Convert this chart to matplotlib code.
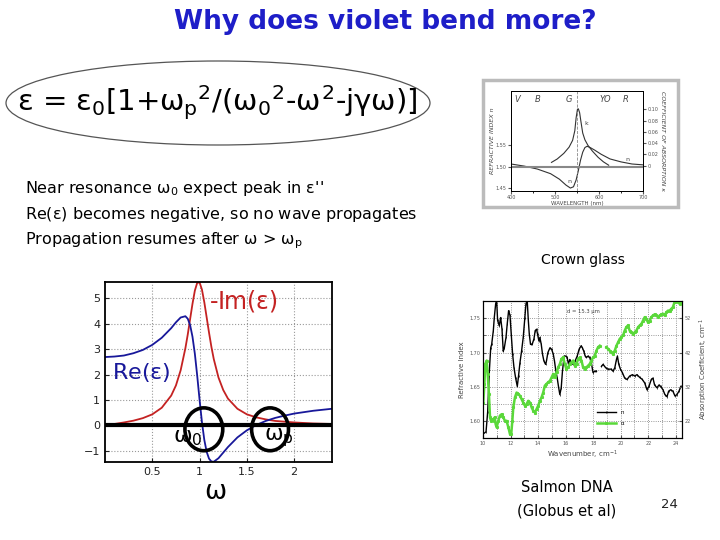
import numpy as np
import matplotlib
matplotlib.use("Agg")
import matplotlib.pyplot as plt
from matplotlib.patches import Ellipse, Rectangle

plt.rcParams['font.family'] = ['DejaVu Sans']
plt.rcParams['mathtext.fontset'] = 'custom'
plt.rcParams['mathtext.rm'] = 'DejaVu Sans'
plt.rcParams['mathtext.it'] = 'DejaVu Sans'
plt.rcParams['mathtext.bf'] = 'DejaVu Sans:bold'

# ---- main plot: Lorentz oscillator eps(w) ----
w = [0, 0.1, 0.2, 0.3, 0.4, 0.5, 0.6, 0.7, 0.75, 0.8, 0.85, 0.875, 0.9, 0.925, 0.95,
     0.975, 1.0, 1.025, 1.05, 1.075, 1.1, 1.125, 1.15, 1.2, 1.25, 1.3, 1.4, 1.5, 1.6,
     1.7, 1.8, 1.9, 2.0, 2.2, 2.4]
re_eps = [2.69, 2.71, 2.75, 2.84, 2.97, 3.17, 3.45, 3.83, 4.06, 4.25, 4.30, 4.20, 3.95,
          3.49, 2.82, 1.95, 1.00, 0.12, -0.58, -1.05, -1.32, -1.43, -1.44, -1.30, -1.08,
          -0.86, -0.48, -0.20, 0.01, 0.17, 0.29, 0.38, 0.46, 0.57, 0.65]
im_eps = [0.00, 0.05, 0.11, 0.18, 0.28, 0.43, 0.69, 1.17, 1.57, 2.17, 3.04, 3.58, 4.19,
          4.79, 5.31, 5.62, 5.63, 5.35, 4.85, 4.25, 3.65, 3.09, 2.61, 1.88, 1.39, 1.05,
          0.65, 0.43, 0.31, 0.23, 0.17, 0.14, 0.11, 0.07, 0.05]

# ---- crown glass (small figure, top right) ----
k_wl = [492, 505, 520, 532, 540, 545, 548, 551, 553, 556, 559, 563, 568, 575, 585, 598, 610, 622]
k_val = [0.006, 0.012, 0.022, 0.033, 0.045, 0.062, 0.085, 0.100, 0.101, 0.094, 0.078,
         0.058, 0.046, 0.036, 0.026, 0.015, 0.007, 0.001]
n_wl = [400, 430, 460, 490, 510, 525, 535, 542, 548, 553, 558, 563, 568, 573, 580, 590,
        605, 625, 650, 675, 700]
n_glass = [1.506, 1.501, 1.494, 1.483, 1.470, 1.456, 1.449, 1.452, 1.468, 1.490, 1.515,
           1.534, 1.545, 1.548, 1.545, 1.539, 1.529, 1.518, 1.511, 1.506, 1.504]
colour_letters = ['V', 'B', 'G', 'YO', 'R']
colour_pos = [407, 455, 525, 600, 655]

# ---- salmon DNA (small figure, bottom right) ----
nan = np.nan
dna_nx = [10.02, 10.22, 10.34, 10.46, 10.56, 10.63, 10.75, 10.82, 10.92, 10.99, 11.06, 11.18,
          11.28, 11.38, 11.47, 11.55, 11.67, 11.76, 11.86, 11.96, 12.05, 12.15, 12.25, 12.37,
          12.49, 12.58, 12.68, 12.80, 12.92, 13.04, 13.12, 13.21, 13.29, 13.36, 13.45, 13.57,
          13.70, 13.79, 13.89, 13.96, 14.06, 14.13, 14.23, 14.32, 14.42, 14.54, 14.61, 14.71,
          14.86, 14.98, 15.10, 15.19, 15.29, 15.39, 15.48, 15.58, 15.68, 15.77, 15.89, 16.01,
          16.11, 16.21, 16.30, 16.43, 16.55, 16.69, 16.84, 16.98, 17.13, 17.22, 17.32, 17.42,
          17.51, 17.63, 17.75, 17.87, 17.99, 18.12, 18.24, nan, 18.60, 18.72, 18.91, 19.08,
          19.32, 19.44, 19.57, 19.69, 19.76, 19.86, 19.98, 20.12, 20.29, 20.46, 20.65, 20.85,
          21.01, 21.18, 21.38, 21.57, 21.74, 21.91, 22.05, 22.22, 22.34, 22.46, 22.63, 22.78,
          22.90, 23.07, 23.21, 23.36, 23.48, 23.62, 23.79, 23.94, 24.08, 24.23, 24.37]
dna_n = [1.582, 1.585, 1.614, 1.673, 1.707, 1.712, 1.732, 1.751, 1.771, 1.776, 1.747, 1.739,
         1.751, 1.734, 1.702, 1.707, 1.722, 1.742, 1.761, 1.754, 1.727, 1.698, 1.678, 1.663,
         1.651, 1.666, 1.685, 1.702, 1.722, 1.751, 1.771, 1.776, 1.747, 1.727, 1.712, 1.712,
         1.720, 1.732, 1.734, 1.727, 1.717, 1.722, 1.712, 1.698, 1.688, 1.683, 1.688, 1.700,
         1.707, 1.705, 1.698, 1.688, 1.673, 1.663, 1.651, 1.639, 1.649, 1.673, 1.695, 1.695,
         1.693, 1.683, 1.690, 1.685, 1.683, 1.688, 1.695, 1.705, 1.710, 1.707, 1.702, 1.695,
         1.693, 1.695, 1.693, 1.685, 1.671, 1.673, 1.673, nan, 1.680, 1.683, 1.678, 1.676,
         1.676, 1.673, 1.678, 1.690, 1.695, 1.683, 1.676, 1.671, 1.663, 1.661, 1.666, 1.668,
         1.666, 1.668, 1.664, 1.661, 1.656, 1.646, 1.651, 1.661, 1.663, 1.653, 1.649, 1.653,
         1.651, 1.646, 1.639, 1.636, 1.644, 1.646, 1.644, 1.637, 1.639, 1.644, 1.651]
dna_ax = [10.02, 10.10, 10.17, 10.27, 10.34, 10.43, 10.51, 10.58, 10.68, 10.77, 10.85, 10.92,
          10.99, 11.11, 11.23, 11.35, 11.47, 11.59, 11.71, 11.84, 11.96, 12.05, 12.13, 12.20,
          12.32, 12.44, 12.56, 12.68, 12.80, 12.92, 13.04, 13.16, 13.29, 13.41, 13.53, 13.65,
          13.77, 13.89, 14.01, 14.13, 14.25, 14.37, 14.49, 14.61, 14.73, 14.86, 14.98, 15.10,
          15.22, 15.34, 15.46, 15.58, 15.70, 15.82, 15.94, 16.06, 16.18, 16.30, 16.43, 16.55,
          16.67, 16.79, 16.91, 17.03, 17.15, 17.27, 17.39, 17.51, 17.63, 17.75, 17.87, 17.99,
          18.12, 18.24, 18.36, 18.48, nan, 18.96, 19.08, 19.20, 19.32, 19.44, 19.57, 19.69,
          19.81, 19.93, 20.05, 20.17, 20.29, 20.41, 20.53, 20.65, 20.77, 20.89, 21.01, 21.14,
          21.26, 21.38, 21.50, 21.62, 21.74, 21.86, 21.98, 22.10, 22.22, 22.34, 22.46, 22.58,
          22.71, 22.83, 22.95, 23.07, 23.19, 23.31, 23.43, 23.55, 23.67, 23.79, 23.91, 24.03,
          24.15, 24.27, 24.40]
dna_alpha = [27.5, 32.9, 38.7, 39.7, 35.8, 30.0, 23.2, 22.2, 22.7, 22.2, 23.2, 21.2, 20.3,
             22.2, 23.7, 24.1, 23.2, 22.2, 22.2, 20.3, 18.3, 18.3, 22.2, 26.1, 29.0, 30.4,
             30.0, 29.5, 28.5, 27.5, 26.6, 27.0, 28.0, 27.5, 26.1, 25.1, 24.6, 25.6, 26.6,
             28.0, 29.0, 30.4, 32.4, 32.9, 33.4, 33.8, 34.8, 35.8, 34.8, 36.3, 37.7, 38.7,
             40.2, 40.6, 38.7, 37.2, 37.7, 38.7, 39.2, 39.7, 38.2, 38.7, 40.2, 40.6, 39.7,
             37.7, 37.2, 37.7, 38.2, 38.7, 39.7, 40.6, 41.1, 42.6, 43.6, 44.0, nan, 43.6,
             43.1, 42.6, 42.1, 41.6, 42.6, 44.0, 45.0, 46.0, 46.5, 47.0, 48.4, 49.4, 49.9,
             48.4, 47.9, 47.4, 47.9, 48.4, 49.4, 49.9, 50.3, 51.3, 52.3, 51.8, 50.8, 51.3,
             52.3, 52.8, 53.1, 52.8, 52.3, 52.8, 53.1, 53.3, 52.8, 53.7, 54.2, 54.2, 54.7,
             55.2, 56.7, 57.1, 56.7, 56.2, 56.4]

blue_title = '#1e1ec8'
red_c = '#c42222'
blue_c = '#18189a'
green_c = '#5ad83a'

fig = plt.figure(figsize=(7.2, 5.4), dpi=100)
W, H = 720.0, 540.0

# title and text block
fig.text(385 / W, 1 - 22 / H, 'Why does violet bend more?', color=blue_title,
         fontsize=19, fontweight='bold', ha='center', va='center')

fig.text(217 / W, 1 - 103 / H,
         r'$\epsilon$ = $\epsilon_0$[1+$\omega_p$$^2$/($\omega_0$$^2$-$\omega^2$-j$\gamma\omega$)]',
         fontsize=21, ha='center', va='center')
fig.patches.append(Ellipse((218 / W, 1 - 103 / H), 424 / W, 84 / H, transform=fig.transFigure,
                           fill=False, ec='#555555', lw=0.9))

lines = [r"Near resonance $\omega_0$ expect peak in $\epsilon$''",
         r"Re($\epsilon$) becomes negative, so no wave propagates",
         r"Propagation resumes after $\omega$ > $\omega_p$"]
for i, s in enumerate(lines):
    fig.text(25 / W, 1 - (188 + 26.5 * i) / H, s, fontsize=11.5, ha='left', va='center')

# main eps plot
ax = fig.add_axes([105 / W, 1 - 462 / H, 227 / W, 180 / H])
ax.plot(w, im_eps, color=red_c, lw=1.3)
ax.plot(w, re_eps, color=blue_c, lw=1.3)
ax.axhline(0, color='black', lw=3, zorder=5)
ax.set_xlim(0, 2.4)
ax.set_ylim(-1.45, 5.65)
ax.set_xticks([0.5, 1, 1.5, 2])
ax.set_xticklabels(['0.5', '1', '1.5', '2'])
ax.set_yticks([-1, 0, 1, 2, 3, 4, 5])
ax.set_yticklabels(['\u22121', '0', '1', '2', '3', '4', '5'])
ax.grid(True, ls=':', color='#999999', lw=0.8)
ax.tick_params(direction='in', labelsize=8, colors='#222222', length=3)
for sp in ax.spines.values():
    sp.set_linewidth(1.3)
ax.text(1.1, 4.9, r'-Im($\epsilon$)', color=red_c, fontsize=17, ha='left', va='center')
ax.text(0.07, 2.1, r'Re($\epsilon$)', color=blue_c, fontsize=16, ha='left', va='center')
ax.add_patch(Ellipse((1.045, -0.16), 0.40, 1.69, fill=False, ec='black', lw=2.6, zorder=6,
                     clip_on=False))
ax.add_patch(Ellipse((1.745, -0.16), 0.39, 1.69, fill=False, ec='black', lw=2.6, zorder=6,
                     clip_on=False))
ax.text(0.72, -0.5, r'$\omega_0$', fontsize=16, ha='left', va='center', zorder=7)
ax.text(1.68, -0.5, r'$\omega_p$', fontsize=16, ha='left', va='center', zorder=7)
fig.text(215 / W, 1 - 492 / H, '\u03c9', fontsize=19, ha='center', va='center')

# crown glass picture
fig.patches.append(Rectangle((483 / W, 1 - 207 / H), 195 / W, 127 / H, transform=fig.transFigure,
                             fill=False, ec='#bbbbbb', lw=2.5))
axc = fig.add_axes([511 / W, 1 - 191 / H, 132 / W, 100 / H])
axc.plot(n_wl, n_glass, color='#333333', lw=0.8)
axc.axhline(1.50, color='#888888', lw=1.5)
axc.axvline(550, color='#888888', lw=0.6, ls='--')
axc.set_xlim(400, 700)
axc.set_ylim(1.442, 1.679)
axc.set_xticks([400, 500, 600, 700])
axc.set_xticks([450, 550, 650], minor=True)
axc.set_yticks([1.45, 1.50, 1.55])
axc.tick_params(labelsize=3.5, colors='#555555', length=2, direction='out', pad=1)
axc.tick_params(which='minor', length=1.5)
axc.set_ylabel('REFRACTIVE INDEX n', fontsize=4.5, style='italic', color='#444444', labelpad=1)
axc.set_xlabel('WAVELENGTH (nm)', fontsize=4, color='#444444', labelpad=0.5)
for lab, p in zip(colour_letters, colour_pos):
    axc.text(p, 1.66, lab, fontsize=6, style='italic', color='#444444', ha='left', va='center')
axc.text(528, 1.462, 'n', fontsize=4.5, color='#444444')
axc2 = axc.twinx()
axc2.plot(k_wl, k_val, color='#333333', lw=0.8)
axc2.set_ylim(-0.0447, 0.1325)
axc2.set_yticks([0, 0.02, 0.04, 0.06, 0.08, 0.10])
axc2.set_yticklabels(['0', '0.02', '0.04', '0.06', '0.08', '0.10'])
axc2.tick_params(labelsize=3.5, colors='#555555', length=2, pad=1)
axc2.set_ylabel('COEFFICIENT OF ABSORPTION \u03ba', fontsize=4.5, style='italic',
                color='#444444', rotation=-90, labelpad=5)
axc2.text(566, 0.072, 'k', fontsize=4.5, color='#444444')
axc2.text(660, 0.008, 'n', fontsize=4.5, color='#444444')
for a in (axc, axc2):
    for sp in a.spines.values():
        sp.set_linewidth(0.7)
fig.text(583 / W, 1 - 260 / H, 'Crown glass', fontsize=10, ha='center', va='center')

# salmon DNA picture
axd = fig.add_axes([483 / W, 1 - 438 / H, 199 / W, 137 / H])
ln_n, = axd.plot(dna_nx, dna_n, color='black', lw=1.0, marker='|', ms=1.5, mew=0.5)
axd.set_xlim(10, 24.45)
axd.set_ylim(1.576, 1.775)
axd.set_xticks(np.arange(10, 25, 2))
axd.set_xticks(np.arange(11, 25, 2), minor=True)
axd.set_yticks([1.60, 1.65, 1.70, 1.75])
axd.set_yticks([1.625, 1.675, 1.725], minor=True)
axd.grid(True, which='both', ls=':', color='#777777', lw=0.6)
axd.tick_params(which='both', labelsize=3.5, colors='#555555', length=2, direction='in', pad=2)
axd.set_ylabel('Refractive Index', fontsize=5, color='#444444', labelpad=3)
axd.set_xlabel('Wavenumber, cm$^{-1}$', fontsize=5, color='#444444', labelpad=2)
axd.text(17.3, 1.76, 'd = 15.3 \u03bcm', fontsize=3.8, color='#444444', ha='center', va='center')
axd2 = axd.twinx()
ln_a, = axd2.plot(dna_ax, dna_alpha, color=green_c, lw=1.8, marker='s', ms=1.2)
axd2.set_ylim(17.2, 57.0)
axd2.set_yticks([22, 32, 42, 52])
axd2.tick_params(labelsize=3.5, colors='#555555', length=2, direction='in', pad=2)
axd2.set_ylabel('Absorption Coefficient, cm$^{-1}$', fontsize=5, color='#444444',
                rotation=90, labelpad=5)
axd2.legend([ln_n, ln_a], ['n', '\u03b1'], loc=(0.56, 0.07), frameon=False, fontsize=4,
            handlelength=3.5, labelspacing=1.2)
fig.text(567 / W, 1 - 488 / H, 'Salmon DNA', fontsize=10.5, ha='center', va='center')
fig.text(567 / W, 1 - 511 / H, '(Globus et al)', fontsize=10.5, ha='center', va='center')
fig.text(669 / W, 1 - 505 / H, '24', fontsize=9.5, ha='center', va='center', color='#222222')

fig.savefig('out.png', dpi=100)
